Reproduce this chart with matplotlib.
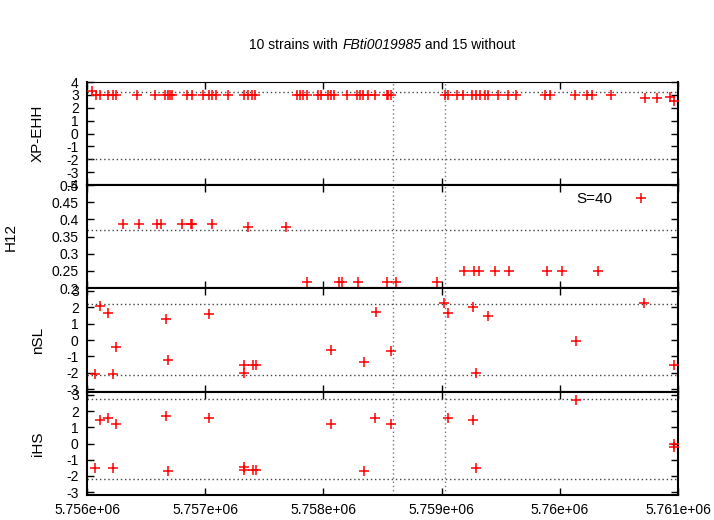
import numpy as np
import matplotlib
matplotlib.use('Agg')
from matplotlib import pyplot as plt

plt.rcParams['font.family'] = ['Liberation Sans', 'DejaVu Sans']
plt.rcParams['font.size'] = 10

# XP-EHH
xp_pos = [5756040, 5756074, 5756110, 5756175, 5756222, 5756245, 5756420, 5756575,
          5756660, 5756683, 5756702, 5756722, 5756843, 5756886, 5756984, 5757032,
          5757055, 5757089, 5757195, 5757331, 5757365, 5757393, 5757421, 5757774,
          5757802, 5757830, 5757859, 5757957, 5757977, 5758041, 5758064, 5758092,
          5758197, 5758282, 5758310, 5758338, 5758380, 5758437, 5758536, 5758549,
          5758572, 5759029, 5759057, 5759128, 5759184, 5759255, 5759289, 5759325,
          5759367, 5759395, 5759480, 5759559, 5759627, 5759875, 5759917, 5760128,
          5760228, 5760270, 5760433, 5760717, 5760826, 5760932, 5760970]
xp_val = [3.28] + [3.02] * 58 + [2.77, 2.77, 2.82, 2.52]

# H12
h12_pos = [5756307, 5756440, 5756590, 5756623, 5756806, 5756877, 5756886, 5757060,
           5757365, 5757684,
           5757864, 5758135, 5758160, 5758293, 5758535, 5758612, 5758959,
           5759189, 5759274, 5759316, 5759452, 5759573, 5759894, 5760016, 5760321,
           5760684]
h12_val = [0.386] * 8 + [0.379] * 2 + [0.218] * 7 + [0.25] * 8 + [0.463]

# nSL
nsl_pos = [5756068, 5756110, 5756180, 5756245, 5756222, 5756666, 5756688, 5757032,
           5757331, 5757331, 5757402, 5757430, 5758064, 5758343, 5758442, 5758572,
           5759023, 5759052, 5759263, 5759291, 5759395, 5760137, 5760715, 5760966]
nsl_val = [-2.09, 2.07, 1.63, -0.45, -2.07, 1.26, -1.22, 1.57,
           -1.52, -1.99, -1.52, -1.52, -0.61, -1.36, 1.73, -0.67,
           2.24, 1.63, 2.03, -2.03, 1.48, -0.06, 2.27, -1.52]

# iHS
ihs_pos = [5756068, 5756110, 5756180, 5756245, 5756222, 5756666, 5756688, 5757032,
           5757331, 5757331, 5757402, 5757430, 5758064, 5758343, 5758436, 5758572,
           5759052, 5759263, 5759291, 5760137, 5760966, 5760966]
ihs_val = [-1.5, 1.42, 1.59, 1.22, -1.5, 1.69, -1.67, 1.56,
           -1.46, -1.62, -1.62, -1.62, 1.22, -1.71, 1.59, 1.22,
           1.59, 1.42, -1.52, 2.70, -0.23, -0.05]

# thresholds and marked positions
xp_thr = [3.22, -1.97]
h12_thr = [0.37]
nsl_thr = [2.18, -2.13]
ihs_thr = [2.75, -2.2]
vlines = [5758589, 5759029]

x_ticks = [5756000, 5757000, 5758000, 5759000, 5760000, 5761000]
x_labels = ['5.756e+06', '5.757e+06', '5.758e+06', '5.759e+06', '5.76e+06', '5.761e+06']

title_parts = [('10 strains with ', 'normal'), ('FBti0019985', 'italic'), (' and 15 without', 'normal')]

panels = [
    ('XP-EHH', xp_pos, xp_val, xp_thr, (-4, 4), [-4, -3, -2, -1, 0, 1, 2, 3, 4], -0.071),
    ('H12', h12_pos, h12_val, h12_thr, (0.2, 0.5), [0.2, 0.25, 0.3, 0.35, 0.4, 0.45, 0.5], -0.117),
    ('nSL', nsl_pos, nsl_val, nsl_thr, (-3.17, 3.17), [-3, -2, -1, 0, 1, 2, 3], -0.071),
    ('iHS', ihs_pos, ihs_val, ihs_thr, (-3.17, 3.17), [-3, -2, -1, 0, 1, 2, 3], -0.071),
]

fig = plt.figure(figsize=(7.14, 5.2), dpi=100)
left, right = 87 / 714, 678 / 714
edges = [82, 185, 288, 392, 495]

axes = []
for i, (name, pos, val, thr, ylim, yt, lx) in enumerate(panels):
    top, bot = 1 - edges[i] / 520, 1 - edges[i + 1] / 520
    ax = fig.add_axes([left, bot, right - left, top - bot])
    axes.append(ax)
    ax.plot(pos, val, '+', color='red', ms=7, mew=1.1, zorder=3)
    for t in thr:
        ax.axhline(t, color='#444444', ls=(0, (1, 2)), lw=1)
    for v in vlines:
        ax.axvline(v, color='#777777', ls=(0, (1, 2)), lw=1)
    ax.set_xlim(5756000, 5761000)
    ax.set_ylim(*ylim)
    ax.set_xticks(x_ticks)
    ax.set_yticks(yt)
    ax.set_yticklabels(['%g' % t for t in yt])
    ax.tick_params(direction='in', top=True, right=True, length=5, width=1, pad=6)
    ax.set_ylabel(name, fontsize=11)
    ax.yaxis.set_label_coords(lx, 0.5)
    for s in ax.spines.values():
        s.set_linewidth(1.5)
    if i == 0:
        ax.spines['top'].set_linewidth(0.8)
    if i < 3:
        ax.set_xticklabels([])
    else:
        ax.set_xticklabels(x_labels)

axes[1].text(0.858, 0.864, 'S=40', transform=axes[1].transAxes, ha='center', va='center', fontsize=11)

# title: pieces laid side by side so the strain name can be italic
r = fig.canvas.get_renderer()
texts = [fig.text(0, 0.913, s, fontstyle=st, ha='left', va='center', fontsize=10) for s, st in title_parts]
widths = [t.get_window_extent(r).width / fig.bbox.width for t in texts]
x = (left + right) / 2 - sum(widths) / 2
for t, w in zip(texts, widths):
    t.set_x(x)
    x += w

plt.savefig('out.png', dpi=100)
